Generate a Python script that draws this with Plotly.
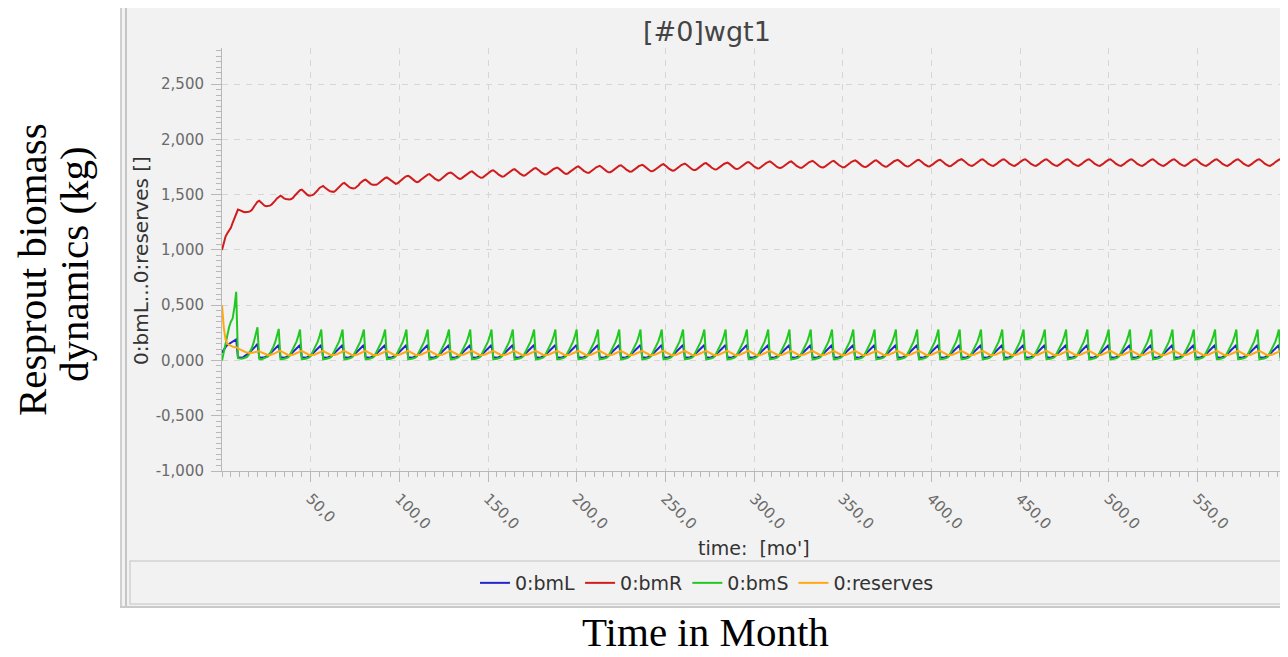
import plotly.graph_objects as go

# ---------------- data ----------------
months = list(range(0, 601))

bmL_by_year = [
    [0.07, 0.10, 0.12, 0.14, 0.15, 0.16, 0.17, 0.18, 0.19, 0.03, 0.025, 0.025],
    [0.03, 0.04, 0.05, 0.065, 0.08, 0.095, 0.11, 0.13, 0.15, 0.03, 0.025, 0.025],
    [0.03, 0.035, 0.045, 0.06, 0.075, 0.09, 0.105, 0.12, 0.14, 0.03, 0.025, 0.025],
    [0.03, 0.035, 0.045, 0.06, 0.075, 0.09, 0.105, 0.12, 0.14, 0.03, 0.025, 0.025],
    [0.03, 0.035, 0.045, 0.06, 0.075, 0.09, 0.105, 0.12, 0.14, 0.03, 0.025, 0.025],
    [0.03, 0.035, 0.045, 0.06, 0.075, 0.09, 0.105, 0.12, 0.14, 0.03, 0.025, 0.025],
    [0.03, 0.035, 0.045, 0.06, 0.075, 0.09, 0.105, 0.12, 0.14, 0.03, 0.025, 0.025],
    [0.03, 0.035, 0.045, 0.06, 0.075, 0.09, 0.105, 0.12, 0.14, 0.03, 0.025, 0.025],
    [0.03, 0.035, 0.045, 0.06, 0.075, 0.09, 0.105, 0.12, 0.14, 0.03, 0.025, 0.025],
    [0.03, 0.035, 0.045, 0.06, 0.075, 0.09, 0.105, 0.12, 0.14, 0.03, 0.025, 0.025],
    [0.03, 0.035, 0.045, 0.06, 0.075, 0.09, 0.105, 0.12, 0.14, 0.03, 0.025, 0.025],
    [0.03, 0.035, 0.045, 0.06, 0.075, 0.09, 0.105, 0.12, 0.14, 0.03, 0.025, 0.025],
    [0.03, 0.035, 0.045, 0.06, 0.075, 0.09, 0.105, 0.12, 0.14, 0.03, 0.025, 0.025],
    [0.03, 0.035, 0.045, 0.06, 0.075, 0.09, 0.105, 0.12, 0.14, 0.03, 0.025, 0.025],
    [0.03, 0.035, 0.045, 0.06, 0.075, 0.09, 0.105, 0.12, 0.14, 0.03, 0.025, 0.025],
    [0.03, 0.035, 0.045, 0.06, 0.075, 0.09, 0.105, 0.12, 0.14, 0.03, 0.025, 0.025],
    [0.03, 0.035, 0.045, 0.06, 0.075, 0.09, 0.105, 0.12, 0.14, 0.03, 0.025, 0.025],
    [0.03, 0.035, 0.045, 0.06, 0.075, 0.09, 0.105, 0.12, 0.14, 0.03, 0.025, 0.025],
    [0.03, 0.035, 0.045, 0.06, 0.075, 0.09, 0.105, 0.12, 0.14, 0.03, 0.025, 0.025],
    [0.03, 0.035, 0.045, 0.06, 0.075, 0.09, 0.105, 0.12, 0.14, 0.03, 0.025, 0.025],
    [0.03, 0.035, 0.045, 0.06, 0.075, 0.09, 0.105, 0.12, 0.14, 0.03, 0.025, 0.025],
    [0.03, 0.035, 0.045, 0.06, 0.075, 0.09, 0.105, 0.12, 0.14, 0.03, 0.025, 0.025],
    [0.03, 0.035, 0.045, 0.06, 0.075, 0.09, 0.105, 0.12, 0.14, 0.03, 0.025, 0.025],
    [0.03, 0.035, 0.045, 0.06, 0.075, 0.09, 0.105, 0.12, 0.14, 0.03, 0.025, 0.025],
    [0.03, 0.035, 0.045, 0.06, 0.075, 0.09, 0.105, 0.12, 0.14, 0.03, 0.025, 0.025],
    [0.03, 0.035, 0.045, 0.06, 0.075, 0.09, 0.105, 0.12, 0.14, 0.03, 0.025, 0.025],
    [0.03, 0.035, 0.045, 0.06, 0.075, 0.09, 0.105, 0.12, 0.14, 0.03, 0.025, 0.025],
    [0.03, 0.035, 0.045, 0.06, 0.075, 0.09, 0.105, 0.12, 0.14, 0.03, 0.025, 0.025],
    [0.03, 0.035, 0.045, 0.06, 0.075, 0.09, 0.105, 0.12, 0.14, 0.03, 0.025, 0.025],
    [0.03, 0.035, 0.045, 0.06, 0.075, 0.09, 0.105, 0.12, 0.14, 0.03, 0.025, 0.025],
    [0.03, 0.035, 0.045, 0.06, 0.075, 0.09, 0.105, 0.12, 0.14, 0.03, 0.025, 0.025],
    [0.03, 0.035, 0.045, 0.06, 0.075, 0.09, 0.105, 0.12, 0.14, 0.03, 0.025, 0.025],
    [0.03, 0.035, 0.045, 0.06, 0.075, 0.09, 0.105, 0.12, 0.14, 0.03, 0.025, 0.025],
    [0.03, 0.035, 0.045, 0.06, 0.075, 0.09, 0.105, 0.12, 0.14, 0.03, 0.025, 0.025],
    [0.03, 0.035, 0.045, 0.06, 0.075, 0.09, 0.105, 0.12, 0.14, 0.03, 0.025, 0.025],
    [0.03, 0.035, 0.045, 0.06, 0.075, 0.09, 0.105, 0.12, 0.14, 0.03, 0.025, 0.025],
    [0.03, 0.035, 0.045, 0.06, 0.075, 0.09, 0.105, 0.12, 0.14, 0.03, 0.025, 0.025],
    [0.03, 0.035, 0.045, 0.06, 0.075, 0.09, 0.105, 0.12, 0.14, 0.03, 0.025, 0.025],
    [0.03, 0.035, 0.045, 0.06, 0.075, 0.09, 0.105, 0.12, 0.14, 0.03, 0.025, 0.025],
    [0.03, 0.035, 0.045, 0.06, 0.075, 0.09, 0.105, 0.12, 0.14, 0.03, 0.025, 0.025],
    [0.03, 0.035, 0.045, 0.06, 0.075, 0.09, 0.105, 0.12, 0.14, 0.03, 0.025, 0.025],
    [0.03, 0.035, 0.045, 0.06, 0.075, 0.09, 0.105, 0.12, 0.14, 0.03, 0.025, 0.025],
    [0.03, 0.035, 0.045, 0.06, 0.075, 0.09, 0.105, 0.12, 0.14, 0.03, 0.025, 0.025],
    [0.03, 0.035, 0.045, 0.06, 0.075, 0.09, 0.105, 0.12, 0.14, 0.03, 0.025, 0.025],
    [0.03, 0.035, 0.045, 0.06, 0.075, 0.09, 0.105, 0.12, 0.14, 0.03, 0.025, 0.025],
    [0.03, 0.035, 0.045, 0.06, 0.075, 0.09, 0.105, 0.12, 0.14, 0.03, 0.025, 0.025],
    [0.03, 0.035, 0.045, 0.06, 0.075, 0.09, 0.105, 0.12, 0.14, 0.03, 0.025, 0.025],
    [0.03, 0.035, 0.045, 0.06, 0.075, 0.09, 0.105, 0.12, 0.14, 0.03, 0.025, 0.025],
    [0.03, 0.035, 0.045, 0.06, 0.075, 0.09, 0.105, 0.12, 0.14, 0.03, 0.025, 0.025],
    [0.03, 0.035, 0.045, 0.06, 0.075, 0.09, 0.105, 0.12, 0.14, 0.03, 0.025, 0.025],
]
bmL_last = [0.03]

bmR_by_year = [
    [1.000, 1.070, 1.120, 1.150, 1.180, 1.200, 1.245, 1.290, 1.335, 1.365, 1.360, 1.350],
    [1.345, 1.340, 1.340, 1.345, 1.350, 1.365, 1.390, 1.415, 1.435, 1.445, 1.430, 1.410],
    [1.400, 1.395, 1.395, 1.400, 1.410, 1.425, 1.445, 1.465, 1.480, 1.490, 1.480, 1.465],
    [1.460, 1.455, 1.455, 1.460, 1.470, 1.490, 1.510, 1.525, 1.540, 1.545, 1.530, 1.510],
    [1.500, 1.490, 1.490, 1.495, 1.505, 1.520, 1.540, 1.560, 1.572, 1.578, 1.565, 1.550],
    [1.540, 1.530, 1.525, 1.525, 1.535, 1.550, 1.570, 1.588, 1.600, 1.605, 1.592, 1.575],
    [1.565, 1.560, 1.555, 1.558, 1.568, 1.585, 1.605, 1.620, 1.630, 1.635, 1.622, 1.605],
    [1.595, 1.588, 1.585, 1.588, 1.598, 1.612, 1.628, 1.642, 1.650, 1.655, 1.644, 1.628],
    [1.615, 1.605, 1.597, 1.602, 1.618, 1.630, 1.644, 1.657, 1.666, 1.670, 1.660, 1.645],
    [1.630, 1.620, 1.612, 1.618, 1.633, 1.645, 1.659, 1.672, 1.681, 1.685, 1.675, 1.660],
    [1.645, 1.635, 1.627, 1.633, 1.648, 1.660, 1.674, 1.687, 1.696, 1.700, 1.690, 1.675],
    [1.660, 1.650, 1.642, 1.645, 1.658, 1.670, 1.684, 1.697, 1.706, 1.710, 1.700, 1.685],
    [1.670, 1.660, 1.652, 1.655, 1.668, 1.680, 1.694, 1.707, 1.716, 1.720, 1.710, 1.695],
    [1.680, 1.670, 1.662, 1.665, 1.678, 1.690, 1.704, 1.717, 1.726, 1.730, 1.720, 1.705],
    [1.690, 1.680, 1.672, 1.675, 1.688, 1.700, 1.714, 1.727, 1.736, 1.740, 1.730, 1.715],
    [1.700, 1.690, 1.682, 1.683, 1.693, 1.705, 1.719, 1.732, 1.741, 1.745, 1.735, 1.720],
    [1.705, 1.695, 1.687, 1.690, 1.703, 1.715, 1.729, 1.742, 1.751, 1.755, 1.745, 1.730],
    [1.715, 1.705, 1.697, 1.698, 1.708, 1.720, 1.734, 1.747, 1.756, 1.760, 1.750, 1.735],
    [1.720, 1.710, 1.702, 1.703, 1.713, 1.725, 1.739, 1.752, 1.761, 1.765, 1.755, 1.740],
    [1.725, 1.715, 1.707, 1.708, 1.718, 1.730, 1.744, 1.757, 1.766, 1.770, 1.760, 1.745],
    [1.730, 1.720, 1.712, 1.713, 1.723, 1.735, 1.749, 1.762, 1.771, 1.775, 1.765, 1.750],
    [1.735, 1.725, 1.717, 1.718, 1.728, 1.740, 1.754, 1.767, 1.776, 1.780, 1.770, 1.755],
    [1.740, 1.730, 1.722, 1.723, 1.733, 1.745, 1.759, 1.772, 1.781, 1.785, 1.775, 1.760],
    [1.745, 1.735, 1.727, 1.728, 1.738, 1.750, 1.764, 1.777, 1.786, 1.790, 1.780, 1.765],
    [1.750, 1.740, 1.732, 1.733, 1.743, 1.755, 1.769, 1.782, 1.791, 1.795, 1.785, 1.770],
    [1.755, 1.745, 1.737, 1.738, 1.748, 1.760, 1.774, 1.787, 1.796, 1.800, 1.790, 1.775],
    [1.760, 1.750, 1.742, 1.740, 1.748, 1.760, 1.774, 1.787, 1.796, 1.800, 1.790, 1.775],
    [1.760, 1.750, 1.742, 1.743, 1.753, 1.765, 1.779, 1.792, 1.801, 1.805, 1.795, 1.780],
    [1.765, 1.755, 1.747, 1.745, 1.753, 1.765, 1.779, 1.792, 1.801, 1.805, 1.795, 1.780],
    [1.765, 1.755, 1.747, 1.748, 1.758, 1.770, 1.784, 1.797, 1.806, 1.810, 1.800, 1.785],
    [1.770, 1.760, 1.752, 1.750, 1.758, 1.770, 1.784, 1.797, 1.806, 1.810, 1.800, 1.785],
    [1.770, 1.760, 1.752, 1.753, 1.763, 1.775, 1.789, 1.802, 1.811, 1.815, 1.805, 1.790],
    [1.775, 1.765, 1.757, 1.755, 1.763, 1.775, 1.789, 1.802, 1.811, 1.815, 1.805, 1.790],
    [1.775, 1.765, 1.757, 1.755, 1.763, 1.775, 1.789, 1.802, 1.811, 1.815, 1.805, 1.790],
    [1.775, 1.765, 1.757, 1.758, 1.768, 1.780, 1.794, 1.807, 1.816, 1.820, 1.810, 1.795],
    [1.780, 1.770, 1.762, 1.760, 1.768, 1.780, 1.794, 1.807, 1.816, 1.820, 1.810, 1.795],
    [1.780, 1.770, 1.762, 1.760, 1.768, 1.780, 1.794, 1.807, 1.816, 1.820, 1.810, 1.795],
    [1.780, 1.770, 1.762, 1.760, 1.768, 1.780, 1.794, 1.807, 1.816, 1.820, 1.810, 1.795],
    [1.780, 1.770, 1.762, 1.760, 1.768, 1.780, 1.794, 1.807, 1.816, 1.820, 1.810, 1.795],
    [1.780, 1.770, 1.762, 1.760, 1.768, 1.780, 1.794, 1.807, 1.816, 1.820, 1.810, 1.795],
    [1.780, 1.770, 1.762, 1.760, 1.768, 1.780, 1.794, 1.807, 1.816, 1.820, 1.810, 1.795],
    [1.780, 1.770, 1.762, 1.760, 1.768, 1.780, 1.794, 1.807, 1.816, 1.820, 1.810, 1.795],
    [1.780, 1.770, 1.762, 1.760, 1.768, 1.780, 1.794, 1.807, 1.816, 1.820, 1.810, 1.795],
    [1.780, 1.770, 1.762, 1.760, 1.768, 1.780, 1.794, 1.807, 1.816, 1.820, 1.810, 1.795],
    [1.780, 1.770, 1.762, 1.760, 1.768, 1.780, 1.794, 1.807, 1.816, 1.820, 1.810, 1.795],
    [1.780, 1.770, 1.762, 1.760, 1.768, 1.780, 1.794, 1.807, 1.816, 1.820, 1.810, 1.795],
    [1.780, 1.770, 1.762, 1.760, 1.768, 1.780, 1.794, 1.807, 1.816, 1.820, 1.810, 1.795],
    [1.780, 1.770, 1.762, 1.760, 1.768, 1.780, 1.794, 1.807, 1.816, 1.820, 1.810, 1.795],
    [1.780, 1.770, 1.762, 1.760, 1.768, 1.780, 1.794, 1.807, 1.816, 1.820, 1.810, 1.795],
    [1.780, 1.770, 1.762, 1.760, 1.768, 1.780, 1.794, 1.807, 1.816, 1.820, 1.810, 1.795],
]
bmR_last = [1.780]

bmS_by_year = [
    [0.00, 0.08, 0.17, 0.25, 0.30, 0.35, 0.38, 0.48, 0.62, 0.02, 0.015, 0.015],
    [0.02, 0.025, 0.03, 0.05, 0.08, 0.12, 0.17, 0.23, 0.30, 0.015, 0.01, 0.015],
    [0.02, 0.025, 0.035, 0.06, 0.09, 0.125, 0.165, 0.22, 0.285, 0.01, 0.01, 0.015],
    [0.02, 0.025, 0.04, 0.07, 0.10, 0.13, 0.17, 0.22, 0.28, 0.01, 0.01, 0.015],
    [0.02, 0.025, 0.04, 0.07, 0.10, 0.13, 0.17, 0.22, 0.28, 0.01, 0.01, 0.015],
    [0.02, 0.025, 0.04, 0.07, 0.10, 0.13, 0.17, 0.22, 0.28, 0.01, 0.01, 0.015],
    [0.02, 0.025, 0.04, 0.07, 0.10, 0.13, 0.17, 0.22, 0.28, 0.01, 0.01, 0.015],
    [0.02, 0.025, 0.04, 0.07, 0.10, 0.13, 0.17, 0.22, 0.28, 0.01, 0.01, 0.015],
    [0.02, 0.025, 0.04, 0.07, 0.10, 0.13, 0.17, 0.22, 0.28, 0.01, 0.01, 0.015],
    [0.02, 0.025, 0.04, 0.07, 0.10, 0.13, 0.17, 0.22, 0.28, 0.01, 0.01, 0.015],
    [0.02, 0.025, 0.04, 0.07, 0.10, 0.13, 0.17, 0.22, 0.28, 0.01, 0.01, 0.015],
    [0.02, 0.025, 0.04, 0.07, 0.10, 0.13, 0.17, 0.22, 0.28, 0.01, 0.01, 0.015],
    [0.02, 0.025, 0.04, 0.07, 0.10, 0.13, 0.17, 0.22, 0.28, 0.01, 0.01, 0.015],
    [0.02, 0.025, 0.04, 0.07, 0.10, 0.13, 0.17, 0.22, 0.28, 0.01, 0.01, 0.015],
    [0.02, 0.025, 0.04, 0.07, 0.10, 0.13, 0.17, 0.22, 0.28, 0.01, 0.01, 0.015],
    [0.02, 0.025, 0.04, 0.07, 0.10, 0.13, 0.17, 0.22, 0.28, 0.01, 0.01, 0.015],
    [0.02, 0.025, 0.04, 0.07, 0.10, 0.13, 0.17, 0.22, 0.28, 0.01, 0.01, 0.015],
    [0.02, 0.025, 0.04, 0.07, 0.10, 0.13, 0.17, 0.22, 0.28, 0.01, 0.01, 0.015],
    [0.02, 0.025, 0.04, 0.07, 0.10, 0.13, 0.17, 0.22, 0.28, 0.01, 0.01, 0.015],
    [0.02, 0.025, 0.04, 0.07, 0.10, 0.13, 0.17, 0.22, 0.28, 0.01, 0.01, 0.015],
    [0.02, 0.025, 0.04, 0.07, 0.10, 0.13, 0.17, 0.22, 0.28, 0.01, 0.01, 0.015],
    [0.02, 0.025, 0.04, 0.07, 0.10, 0.13, 0.17, 0.22, 0.28, 0.01, 0.01, 0.015],
    [0.02, 0.025, 0.04, 0.07, 0.10, 0.13, 0.17, 0.22, 0.28, 0.01, 0.01, 0.015],
    [0.02, 0.025, 0.04, 0.07, 0.10, 0.13, 0.17, 0.22, 0.28, 0.01, 0.01, 0.015],
    [0.02, 0.025, 0.04, 0.07, 0.10, 0.13, 0.17, 0.22, 0.28, 0.01, 0.01, 0.015],
    [0.02, 0.025, 0.04, 0.07, 0.10, 0.13, 0.17, 0.22, 0.28, 0.01, 0.01, 0.015],
    [0.02, 0.025, 0.04, 0.07, 0.10, 0.13, 0.17, 0.22, 0.28, 0.01, 0.01, 0.015],
    [0.02, 0.025, 0.04, 0.07, 0.10, 0.13, 0.17, 0.22, 0.28, 0.01, 0.01, 0.015],
    [0.02, 0.025, 0.04, 0.07, 0.10, 0.13, 0.17, 0.22, 0.28, 0.01, 0.01, 0.015],
    [0.02, 0.025, 0.04, 0.07, 0.10, 0.13, 0.17, 0.22, 0.28, 0.01, 0.01, 0.015],
    [0.02, 0.025, 0.04, 0.07, 0.10, 0.13, 0.17, 0.22, 0.28, 0.01, 0.01, 0.015],
    [0.02, 0.025, 0.04, 0.07, 0.10, 0.13, 0.17, 0.22, 0.28, 0.01, 0.01, 0.015],
    [0.02, 0.025, 0.04, 0.07, 0.10, 0.13, 0.17, 0.22, 0.28, 0.01, 0.01, 0.015],
    [0.02, 0.025, 0.04, 0.07, 0.10, 0.13, 0.17, 0.22, 0.28, 0.01, 0.01, 0.015],
    [0.02, 0.025, 0.04, 0.07, 0.10, 0.13, 0.17, 0.22, 0.28, 0.01, 0.01, 0.015],
    [0.02, 0.025, 0.04, 0.07, 0.10, 0.13, 0.17, 0.22, 0.28, 0.01, 0.01, 0.015],
    [0.02, 0.025, 0.04, 0.07, 0.10, 0.13, 0.17, 0.22, 0.28, 0.01, 0.01, 0.015],
    [0.02, 0.025, 0.04, 0.07, 0.10, 0.13, 0.17, 0.22, 0.28, 0.01, 0.01, 0.015],
    [0.02, 0.025, 0.04, 0.07, 0.10, 0.13, 0.17, 0.22, 0.28, 0.01, 0.01, 0.015],
    [0.02, 0.025, 0.04, 0.07, 0.10, 0.13, 0.17, 0.22, 0.28, 0.01, 0.01, 0.015],
    [0.02, 0.025, 0.04, 0.07, 0.10, 0.13, 0.17, 0.22, 0.28, 0.01, 0.01, 0.015],
    [0.02, 0.025, 0.04, 0.07, 0.10, 0.13, 0.17, 0.22, 0.28, 0.01, 0.01, 0.015],
    [0.02, 0.025, 0.04, 0.07, 0.10, 0.13, 0.17, 0.22, 0.28, 0.01, 0.01, 0.015],
    [0.02, 0.025, 0.04, 0.07, 0.10, 0.13, 0.17, 0.22, 0.28, 0.01, 0.01, 0.015],
    [0.02, 0.025, 0.04, 0.07, 0.10, 0.13, 0.17, 0.22, 0.28, 0.01, 0.01, 0.015],
    [0.02, 0.025, 0.04, 0.07, 0.10, 0.13, 0.17, 0.22, 0.28, 0.01, 0.01, 0.015],
    [0.02, 0.025, 0.04, 0.07, 0.10, 0.13, 0.17, 0.22, 0.28, 0.01, 0.01, 0.015],
    [0.02, 0.025, 0.04, 0.07, 0.10, 0.13, 0.17, 0.22, 0.28, 0.01, 0.01, 0.015],
    [0.02, 0.025, 0.04, 0.07, 0.10, 0.13, 0.17, 0.22, 0.28, 0.01, 0.01, 0.015],
    [0.02, 0.025, 0.04, 0.07, 0.10, 0.13, 0.17, 0.22, 0.28, 0.01, 0.01, 0.015],
]
bmS_last = [0.02]

reserves_by_year = [
    [0.50, 0.30, 0.19, 0.15, 0.14, 0.13, 0.125, 0.12, 0.12, 0.11, 0.10, 0.09],
    [0.085, 0.078, 0.072, 0.068, 0.068, 0.07, 0.075, 0.08, 0.085, 0.083, 0.075, 0.068],
    [0.06, 0.052, 0.048, 0.048, 0.052, 0.058, 0.066, 0.075, 0.083, 0.086, 0.078, 0.068],
    [0.06, 0.052, 0.048, 0.048, 0.052, 0.058, 0.066, 0.075, 0.083, 0.086, 0.078, 0.068],
    [0.06, 0.052, 0.048, 0.048, 0.052, 0.058, 0.066, 0.075, 0.083, 0.086, 0.078, 0.068],
    [0.06, 0.052, 0.048, 0.048, 0.052, 0.058, 0.066, 0.075, 0.083, 0.086, 0.078, 0.068],
    [0.06, 0.052, 0.048, 0.048, 0.052, 0.058, 0.066, 0.075, 0.083, 0.086, 0.078, 0.068],
    [0.06, 0.052, 0.048, 0.048, 0.052, 0.058, 0.066, 0.075, 0.083, 0.086, 0.078, 0.068],
    [0.06, 0.052, 0.048, 0.048, 0.052, 0.058, 0.066, 0.075, 0.083, 0.086, 0.078, 0.068],
    [0.06, 0.052, 0.048, 0.048, 0.052, 0.058, 0.066, 0.075, 0.083, 0.086, 0.078, 0.068],
    [0.06, 0.052, 0.048, 0.048, 0.052, 0.058, 0.066, 0.075, 0.083, 0.086, 0.078, 0.068],
    [0.06, 0.052, 0.048, 0.048, 0.052, 0.058, 0.066, 0.075, 0.083, 0.086, 0.078, 0.068],
    [0.06, 0.052, 0.048, 0.048, 0.052, 0.058, 0.066, 0.075, 0.083, 0.086, 0.078, 0.068],
    [0.06, 0.052, 0.048, 0.048, 0.052, 0.058, 0.066, 0.075, 0.083, 0.086, 0.078, 0.068],
    [0.06, 0.052, 0.048, 0.048, 0.052, 0.058, 0.066, 0.075, 0.083, 0.086, 0.078, 0.068],
    [0.06, 0.052, 0.048, 0.048, 0.052, 0.058, 0.066, 0.075, 0.083, 0.086, 0.078, 0.068],
    [0.06, 0.052, 0.048, 0.048, 0.052, 0.058, 0.066, 0.075, 0.083, 0.086, 0.078, 0.068],
    [0.06, 0.052, 0.048, 0.048, 0.052, 0.058, 0.066, 0.075, 0.083, 0.086, 0.078, 0.068],
    [0.06, 0.052, 0.048, 0.048, 0.052, 0.058, 0.066, 0.075, 0.083, 0.086, 0.078, 0.068],
    [0.06, 0.052, 0.048, 0.048, 0.052, 0.058, 0.066, 0.075, 0.083, 0.086, 0.078, 0.068],
    [0.06, 0.052, 0.048, 0.048, 0.052, 0.058, 0.066, 0.075, 0.083, 0.086, 0.078, 0.068],
    [0.06, 0.052, 0.048, 0.048, 0.052, 0.058, 0.066, 0.075, 0.083, 0.086, 0.078, 0.068],
    [0.06, 0.052, 0.048, 0.048, 0.052, 0.058, 0.066, 0.075, 0.083, 0.086, 0.078, 0.068],
    [0.06, 0.052, 0.048, 0.048, 0.052, 0.058, 0.066, 0.075, 0.083, 0.086, 0.078, 0.068],
    [0.06, 0.052, 0.048, 0.048, 0.052, 0.058, 0.066, 0.075, 0.083, 0.086, 0.078, 0.068],
    [0.06, 0.052, 0.048, 0.048, 0.052, 0.058, 0.066, 0.075, 0.083, 0.086, 0.078, 0.068],
    [0.06, 0.052, 0.048, 0.048, 0.052, 0.058, 0.066, 0.075, 0.083, 0.086, 0.078, 0.068],
    [0.06, 0.052, 0.048, 0.048, 0.052, 0.058, 0.066, 0.075, 0.083, 0.086, 0.078, 0.068],
    [0.06, 0.052, 0.048, 0.048, 0.052, 0.058, 0.066, 0.075, 0.083, 0.086, 0.078, 0.068],
    [0.06, 0.052, 0.048, 0.048, 0.052, 0.058, 0.066, 0.075, 0.083, 0.086, 0.078, 0.068],
    [0.06, 0.052, 0.048, 0.048, 0.052, 0.058, 0.066, 0.075, 0.083, 0.086, 0.078, 0.068],
    [0.06, 0.052, 0.048, 0.048, 0.052, 0.058, 0.066, 0.075, 0.083, 0.086, 0.078, 0.068],
    [0.06, 0.052, 0.048, 0.048, 0.052, 0.058, 0.066, 0.075, 0.083, 0.086, 0.078, 0.068],
    [0.06, 0.052, 0.048, 0.048, 0.052, 0.058, 0.066, 0.075, 0.083, 0.086, 0.078, 0.068],
    [0.06, 0.052, 0.048, 0.048, 0.052, 0.058, 0.066, 0.075, 0.083, 0.086, 0.078, 0.068],
    [0.06, 0.052, 0.048, 0.048, 0.052, 0.058, 0.066, 0.075, 0.083, 0.086, 0.078, 0.068],
    [0.06, 0.052, 0.048, 0.048, 0.052, 0.058, 0.066, 0.075, 0.083, 0.086, 0.078, 0.068],
    [0.06, 0.052, 0.048, 0.048, 0.052, 0.058, 0.066, 0.075, 0.083, 0.086, 0.078, 0.068],
    [0.06, 0.052, 0.048, 0.048, 0.052, 0.058, 0.066, 0.075, 0.083, 0.086, 0.078, 0.068],
    [0.06, 0.052, 0.048, 0.048, 0.052, 0.058, 0.066, 0.075, 0.083, 0.086, 0.078, 0.068],
    [0.06, 0.052, 0.048, 0.048, 0.052, 0.058, 0.066, 0.075, 0.083, 0.086, 0.078, 0.068],
    [0.06, 0.052, 0.048, 0.048, 0.052, 0.058, 0.066, 0.075, 0.083, 0.086, 0.078, 0.068],
    [0.06, 0.052, 0.048, 0.048, 0.052, 0.058, 0.066, 0.075, 0.083, 0.086, 0.078, 0.068],
    [0.06, 0.052, 0.048, 0.048, 0.052, 0.058, 0.066, 0.075, 0.083, 0.086, 0.078, 0.068],
    [0.06, 0.052, 0.048, 0.048, 0.052, 0.058, 0.066, 0.075, 0.083, 0.086, 0.078, 0.068],
    [0.06, 0.052, 0.048, 0.048, 0.052, 0.058, 0.066, 0.075, 0.083, 0.086, 0.078, 0.068],
    [0.06, 0.052, 0.048, 0.048, 0.052, 0.058, 0.066, 0.075, 0.083, 0.086, 0.078, 0.068],
    [0.06, 0.052, 0.048, 0.048, 0.052, 0.058, 0.066, 0.075, 0.083, 0.086, 0.078, 0.068],
    [0.06, 0.052, 0.048, 0.048, 0.052, 0.058, 0.066, 0.075, 0.083, 0.086, 0.078, 0.068],
    [0.06, 0.052, 0.048, 0.048, 0.052, 0.058, 0.066, 0.075, 0.083, 0.086, 0.078, 0.068],
]
reserves_last = [0.06]

series_names = ["0:bmL", "0:bmR", "0:bmS", "0:reserves"]
series_colors = ["#2424cc", "#d01c1c", "#22c822", "#ffa812"]

x_tick_vals = [50, 100, 150, 200, 250, 300, 350, 400, 450, 500, 550, 600]
x_tick_text = ["50,0", "100,0", "150,0", "200,0", "250,0", "300,0", "350,0",
               "400,0", "450,0", "500,0", "550,0", "600,0"]
y_tick_vals = [-1.0, -0.5, 0.0, 0.5, 1.0, 1.5, 2.0, 2.5]
y_tick_text = ["-1,000", "-0,500", "0,000", "0,500", "1,000", "1,500", "2,000", "2,500"]

chart_title = "[#0]wgt1"
x_axis_title = "time:\u00a0 [mo']"
y_axis_title = "0:bmL...0:reserves []"
outer_y_lines = ["Resprout biomass", "dynamics (kg)"]
outer_x_label = "Time in Month"


def flatten(rows, tail):
    out = []
    for row in rows:
        out.extend(row)
    out.extend(tail)
    return out


bmL = flatten(bmL_by_year, bmL_last)
bmR = flatten(bmR_by_year, bmR_last)
bmS = flatten(bmS_by_year, bmS_last)
reserves = flatten(reserves_by_year, reserves_last)

# ---------------- figure ----------------
# the page body has an 8px margin, so the figure is 8px smaller and offset by 8px
OFF = 8
W, H = 1288 - OFF, 657 - OFF
PLOT_L, PLOT_R, PLOT_T, PLOT_B = 222, 1286, 48, 471      # page pixel coords of plot area
ML, MR, MT = PLOT_L - OFF, (1288 - PLOT_R), PLOT_T - OFF
MB = H - (PLOT_B - OFF)
PW, PH = W - ML - MR, H - MT - MB


def px(xp):
    return (xp - PLOT_L) / PW


def py(yp):
    return (PLOT_B - yp) / PH


fig = go.Figure()
for name, vals, col in zip(series_names, [bmL, bmR, bmS, reserves], series_colors):
    fig.add_trace(go.Scatter(x=months, y=vals, mode="lines", name=name,
                             line=dict(color=col, width=2), hoverinfo="skip"))

axis_col = "#b8b8b8"
grid_col = "#d6d6d6"
tick_font = dict(family="DejaVu Sans", size=15, color="#6a6a6a")

fig.update_layout(
    width=W, height=H, autosize=False,
    margin=dict(l=ML, r=MR, t=MT, b=MB, pad=0),
    paper_bgcolor="#ffffff",
    plot_bgcolor="#f2f2f2",
    showlegend=True,
    legend=dict(orientation="h", x=px(707), xanchor="center", y=py(583), yanchor="middle",
                bgcolor="rgba(0,0,0,0)", font=dict(family="DejaVu Sans", size=19, color="#333333"),
                itemwidth=30, traceorder="normal"),
    xaxis=dict(range=[0, 600], tickmode="array", tickvals=x_tick_vals, ticktext=x_tick_text,
               tickangle=45, ticks="outside", ticklen=10, tickcolor=axis_col, tickwidth=1,
               showline=True, linecolor=axis_col, linewidth=1, zeroline=False,
               showgrid=True, gridcolor=grid_col, griddash="6px,6px", gridwidth=1,
               tickfont=tick_font, ticklabelstandoff=2,
               minor=dict(tickmode="linear", tick0=0, dtick=5, ticks="outside", ticklen=5,
                          tickcolor=axis_col, showgrid=False)),
    yaxis=dict(range=[-1.0, 2.826], tickmode="array", tickvals=y_tick_vals, ticktext=y_tick_text,
               ticks="outside", ticklen=10, tickcolor=axis_col, tickwidth=1,
               showline=True, linecolor=axis_col, linewidth=1, zeroline=False,
               showgrid=True, gridcolor=grid_col, griddash="6px,6px", gridwidth=1,
               tickfont=tick_font, ticklabelstandoff=4,
               minor=dict(tickmode="linear", tick0=0, dtick=0.05, ticks="outside", ticklen=5,
                          tickcolor=axis_col, showgrid=False)),
)

shapes = [
    # chart panel
    dict(type="rect", xref="paper", yref="paper", x0=px(120), x1=px(1300), y0=py(608), y1=py(8),
         fillcolor="#f2f2f2", line=dict(width=0), layer="below"),
    # left frame lines
    dict(type="line", xref="paper", yref="paper", x0=px(121), x1=px(121), y0=py(608), y1=py(8),
         line=dict(color="#d0d0d0", width=2), layer="below"),
    dict(type="line", xref="paper", yref="paper", x0=px(126), x1=px(126), y0=py(608), y1=py(8),
         line=dict(color="#c6c6c6", width=2), layer="below"),
    # bottom frame line
    dict(type="line", xref="paper", yref="paper", x0=px(120), x1=px(1300), y0=py(607), y1=py(607),
         line=dict(color="#cacaca", width=2), layer="below"),
    # legend box
    dict(type="rect", xref="paper", yref="paper", x0=px(130), x1=px(1300), y0=py(604), y1=py(561),
         fillcolor="rgba(0,0,0,0)", line=dict(color="#d2d2d2", width=1.5), layer="below"),
]
fig.update_layout(shapes=shapes)

annotations = [
    dict(text=chart_title, x=px(707), y=py(32), xref="paper", yref="paper",
         xanchor="center", yanchor="middle", showarrow=False,
         font=dict(family="DejaVu Sans", size=27, color="#444444")),
    dict(text=x_axis_title, x=px(754), y=py(548), xref="paper", yref="paper",
         xanchor="center", yanchor="middle", showarrow=False,
         font=dict(family="DejaVu Sans", size=19, color="#333333")),
    dict(text=y_axis_title, x=px(141), y=py(261), xref="paper", yref="paper",
         xanchor="center", yanchor="middle", showarrow=False, textangle=-90,
         font=dict(family="DejaVu Sans", size=20, color="#333333")),
    dict(text=outer_y_lines[0], x=px(32), y=py(270), xref="paper", yref="paper",
         xanchor="center", yanchor="middle", showarrow=False, textangle=-90,
         font=dict(family="Liberation Serif", size=41, color="#000000")),
    dict(text=outer_y_lines[1], x=px(74), y=py(264), xref="paper", yref="paper",
         xanchor="center", yanchor="middle", showarrow=False, textangle=-90,
         font=dict(family="Liberation Serif", size=41, color="#000000")),
    dict(text=outer_x_label, x=px(705), y=py(632), xref="paper", yref="paper",
         xanchor="center", yanchor="middle", showarrow=False,
         font=dict(family="Liberation Serif", size=41, color="#000000")),
]
fig.update_layout(annotations=annotations)

fig.write_html("out.html")
